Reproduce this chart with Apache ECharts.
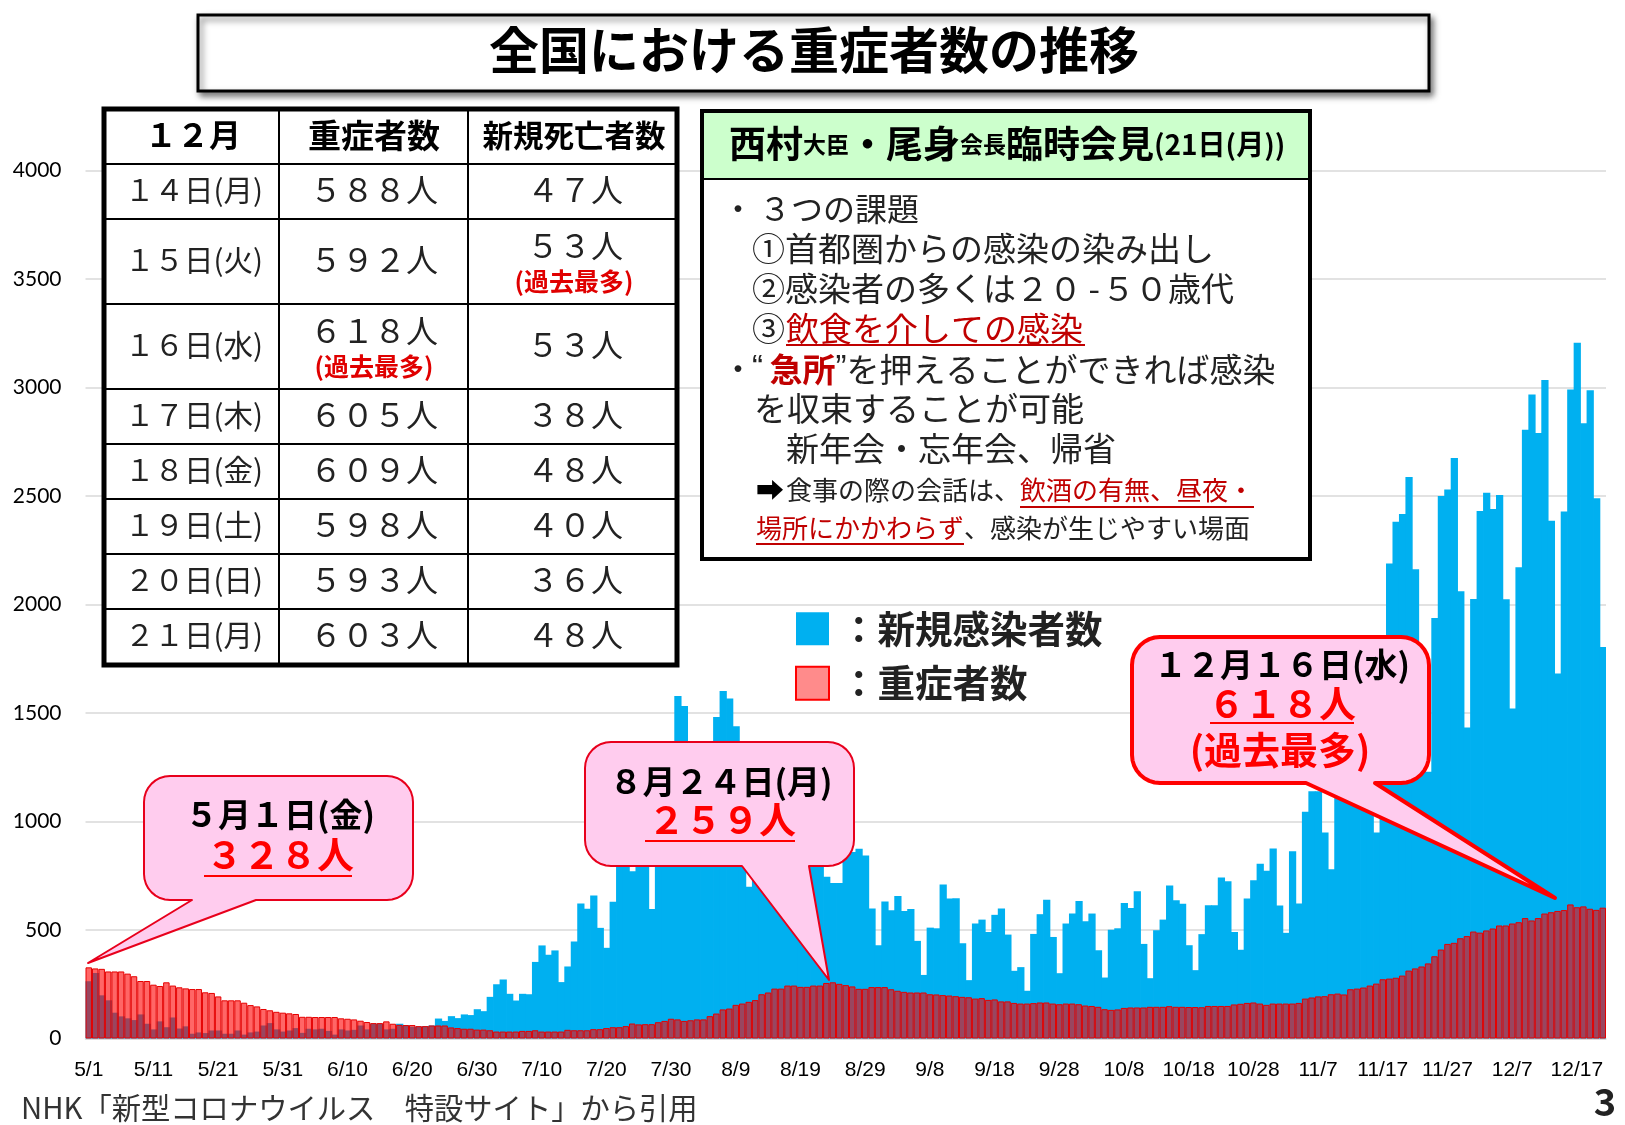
<!DOCTYPE html>
<html>
<head>
<meta charset="utf-8">
<title>全国における重症者数の推移</title>
<script src="https://cdn.jsdelivr.net/npm/echarts@6/dist/echarts.min.js"></script>
<style>
  html, body { margin: 0; padding: 0; background: #fff; }
  #chart { width: 1625px; height: 1125px; }
</style>
</head>
<body>
<div id="chart"></div>
<script>
const monthStarts = [[5, 31], [6, 30], [7, 31], [8, 31], [9, 30], [10, 31], [11, 30], [12, 21]];

// 5/1 .. 12/21, ten values per row
const newCases = [
  264, 302, 199, 176, 119, 102, 93, 85, 111, 68,
  42, 79, 52, 97, 46, 56, 22, 28, 25, 37,
  37, 22, 22, 37, 18, 28, 32, 60, 71, 42,
  32, 37, 48, 26, 45, 42, 45, 35, 18, 42,
  37, 40, 60, 42, 68, 68, 42, 45, 68, 62,
  54, 55, 57, 60, 92, 81, 103, 94, 111, 108,
  135, 126, 192, 250, 272, 206, 175, 206, 204, 353,
  429, 386, 406, 260, 332, 447, 622, 598, 659, 510,
  418, 630, 795, 981, 771, 836, 839, 597, 981, 1264,
  1301, 1579, 1533, 1331, 963, 1239, 1357, 1482, 1602, 1567,
  1439, 1000, 699, 970, 1176, 1360, 1235, 1014, 640, 909,
  1070, 1180, 1030, 1025, 745, 717, 717, 850, 860, 875,
  843, 599, 430, 631, 591, 657, 588, 597, 450, 293,
  511, 508, 710, 645, 647, 439, 269, 530, 548, 491,
  570, 599, 479, 312, 329, 220, 482, 573, 640, 468,
  301, 530, 576, 634, 541, 576, 407, 281, 501, 508,
  625, 602, 679, 436, 278, 499, 548, 705, 637, 621,
  430, 315, 481, 614, 614, 742, 725, 491, 409, 645,
  730, 806, 773, 876, 613, 487, 863, 622, 1045, 1140,
  1140, 949, 780, 1289, 1547, 1660, 1704, 1737, 1437, 949,
  1699, 2189, 2382, 2418, 2588, 2163, 1520, 1229, 1938, 2501,
  2530, 2676, 2061, 1433, 2026, 2432, 2515, 2441, 2505, 2025,
  1521, 2172, 2806, 2969, 2791, 3035, 2386, 1682, 2429, 2992,
  3207, 2836, 2988, 2490, 1805
];

const severeCases = [
  328, 323, 321, 309, 309, 309, 299, 287, 265, 265,
  248, 242, 259, 244, 236, 231, 228, 228, 213, 210,
  194, 176, 176, 176, 165, 154, 148, 136, 130, 123,
  119, 116, 113, 100, 100, 99, 99, 99, 99, 93,
  91, 88, 82, 76, 71, 71, 79, 68, 63, 62,
  62, 57, 57, 60, 60, 60, 51, 48, 45, 45,
  41, 41, 38, 32, 32, 32, 32, 35, 35, 38,
  32, 32, 32, 32, 40, 38, 38, 38, 43, 43,
  48, 52, 52, 57, 69, 65, 66, 66, 75, 81,
  91, 88, 81, 84, 88, 88, 103, 115, 134, 138,
  155, 161, 169, 177, 204, 212, 230, 230, 244, 244,
  238, 238, 244, 244, 256, 259, 252, 246, 240, 229,
  229, 237, 237, 237, 227, 220, 215, 212, 212, 212,
  204, 203, 200, 198, 195, 192, 190, 184, 186, 178,
  180, 171, 171, 164, 161, 161, 163, 166, 166, 161,
  158, 161, 161, 158, 152, 150, 146, 135, 132, 134,
  141, 143, 143, 143, 146, 146, 146, 149, 146, 146,
  145, 145, 144, 150, 150, 150, 150, 157, 160, 164,
  166, 161, 155, 161, 161, 161, 161, 164, 184, 189,
  194, 195, 204, 207, 203, 227, 230, 235, 244, 253,
  273, 276, 280, 290, 313, 323, 332, 346, 379, 410,
  436, 441, 462, 472, 493, 488, 498, 507, 521, 521,
  530, 536, 555, 544, 555, 576, 582, 588, 592, 618,
  605, 609, 598, 593, 603
];

const tableHeader = ['１２月', '重症者数', '新規死亡者数'];
const tableDays = ['１４日(月)', '１５日(火)', '１６日(水)', '１７日(木)', '１８日(金)', '１９日(土)', '２０日(日)', '２１日(月)'];
const tableSevere = ['５８８人', '５９２人', '６１８人', '６０５人', '６０９人', '５９８人', '５９３人', '６０３人'];
const tableDeaths = ['４７人', '５３人', '５３人', '３８人', '４８人', '４０人', '３６人', '４８人'];

const days = [];
monthStarts.forEach(([m, n]) => {
  for (let d = 1; d <= n; d++) days.push(`${m}/${d}`);
});

const FONT = '"Noto Sans CJK JP", sans-serif';
const gfx = [];

const rect = (x, y, w, h, fill, stroke, lw, extra = {}) => {
  gfx.push({
    type: 'rect', z: 100, silent: true,
    shape: { x, y, width: w, height: h, r: extra.r || 0 },
    style: { fill, stroke, lineWidth: lw, ...(extra.style || {}) },
  });
};
const line = (x1, y1, x2, y2, color, lw) => {
  gfx.push({
    type: 'line', z: 102, silent: true,
    shape: { x1, y1, x2, y2 },
    style: { stroke: color, lineWidth: lw },
  });
};
const text = (x, y, str, size, opts = {}) => {
  gfx.push({
    type: 'text', z: 103, silent: true, x, y,
    style: {
      text: str, fontSize: size, fontFamily: FONT,
      fontWeight: opts.weight || 'normal',
      fill: opts.color || '#222',
      align: opts.align || 'left', verticalAlign: 'middle',
      rich: opts.rich,
    },
  });
};
// rounded box with a pointed tail, drawn as one polygon outline
const arc = (cx, cy, r, from) => {
  const pts = [];
  for (let k = 0; k <= 8; k++) {
    const a = from + (k / 8) * (Math.PI / 2);
    pts.push([cx + r * Math.cos(a), cy + r * Math.sin(a)]);
  }
  return pts;
};
const callout = (x, y, w, h, r, tailA, tip, tailB, stroke, lw) => {
  const b = y + h;
  const points = [
    ...arc(x + r, y + r, r, Math.PI),
    ...arc(x + w - r, y + r, r, -Math.PI / 2),
    ...arc(x + w - r, b - r, r, 0),
    [tailB, b], tip, [tailA, b],
    ...arc(x + r, b - r, r, Math.PI / 2),
  ];
  gfx.push({
    type: 'polygon', z: 101, silent: true,
    shape: { points },
    style: { fill: '#FFCCEE', stroke, lineWidth: lw, lineJoin: 'round' },
  });
};

// title
rect(198, 15, 1231, 76, '#fff', '#000', 3, {
  style: { shadowBlur: 6, shadowOffsetX: 3, shadowOffsetY: 4, shadowColor: 'rgba(0,0,0,0.5)' },
});
text(814, 50, '全国における重症者数の推移', 50, { weight: 'bold', color: '#000', align: 'center' });

// table
const colX = [104, 279, 468, 677];
const rowY = [109, 164, 219, 304, 389, 444, 499, 554, 609, 665];
rect(colX[0], rowY[0], colX[3] - colX[0], rowY[9] - rowY[0], '#fff', '#000', 5);
colX.slice(1, 3).forEach((x) => line(x, rowY[0], x, rowY[9], '#000', 2));
rowY.slice(1, 9).forEach((y) => line(colX[0], y, colX[3], y, '#000', 2));
const colMid = [193, 374, 574];
tableHeader.forEach((t, i) => {
  text(colMid[i], 135, t, [32, 33, 30.5][i], { weight: 'bold', color: '#000', align: 'center' });
});
tableDays.forEach((t, i) => {
  const mid = (rowY[i + 1] + rowY[i + 2]) / 2 - 2;
  text(colMid[0] + 1, mid, t, 29.5, { align: 'center' });
  text(colMid[1], i === 2 ? mid - 14 : mid, tableSevere[i], 32, { align: 'center' });
  text(colMid[2] + 1, i === 1 ? mid - 14 : mid, tableDeaths[i], 32, { align: 'center' });
  if (i === 1) text(colMid[2], mid + 22, '(過去最多)', 25, { weight: 'bold', color: '#E00000', align: 'center' });
  if (i === 2) text(colMid[1], mid + 22, '(過去最多)', 25, { weight: 'bold', color: '#E00000', align: 'center' });
});

// press conference box
rect(702, 111, 608, 448, '#fff', '#000', 4);
rect(702, 111, 608, 68, '#CCFFCC', '#000', 2);
rect(702, 111, 608, 448, 'rgba(0,0,0,0)', '#000', 4);
text(729, 144, '{b|西村}{s|大臣}{b|・尾身}{s|会長}{b|臨時会見}{p|(21日(月))}', 37, {
  rich: {
    b: { fontSize: 37, fontWeight: 'bold', fontFamily: FONT, fill: '#000' },
    s: { fontSize: 23, fontWeight: 'bold', fontFamily: FONT, fill: '#000' },
    p: { fontSize: 28, fontWeight: 'bold', fontFamily: FONT, fill: '#000' },
  },
});
const RED = '#C00000';
text(722, 209, '・', 32);
text(759, 209, '３つの課題', 32);
text(752, 248, '①首都圏からの感染の染み出し', 33);
text(752, 288, '②感染者の多くは２０\u2009-\u200a５０歳代', 33);
text(752, 328, '③', 33);
text(786, 328, '飲食を介しての感染', 33, { color: RED });
line(786, 345, 1085, 345, RED, 2);
text(722, 369, '・', 32);
text(752, 369, '{q|“\u2009}{r|急所}{q|”}{t|を押えることができれば感染}', 33, {
  rich: {
    q: { fontSize: 33, fontFamily: '"Liberation Sans"', fill: '#222' },
    r: { fontSize: 33, fontWeight: 'bold', fontFamily: FONT, fill: RED },
    t: { fontSize: 33, fontFamily: FONT, fill: '#222' },
  },
});
text(754, 408, 'を収束することが可能', 33);
text(786, 448, '新年会・忘年会、帰省', 33);
text(756, 490, '➡', 28, { color: '#000' });
text(786, 490, '食事の際の会話は、', 26);
text(1020, 490, '飲酒の有無、昼夜・', 26, { color: RED });
line(1020, 507, 1254, 507, RED, 2);
text(756, 528, '場所にかかわらず', 26, { color: RED });
line(756, 544, 964, 544, RED, 2);
text(964, 528, '、感染が生じやすい場面', 26);

// callouts
callout(144, 776, 269, 124, 26, 192, [88, 963], 256, '#E8001C', 2);
text(280, 814, '５月１日(金)', 33, { weight: 'bold', color: '#000', align: 'center' });
text(280, 855, '３２８人', 37, { weight: 'bold', color: '#FF0000', align: 'center' });
line(204, 876, 352, 876, '#FF0000', 2);

callout(585, 742, 269, 124, 26, 742, [829, 980], 809, '#E8001C', 2);
text(721, 781, '８月２４日(月)', 33, { weight: 'bold', color: '#000', align: 'center' });
text(722, 820, '２５９人', 37, { weight: 'bold', color: '#FF0000', align: 'center' });
line(645, 841, 795, 841, '#FF0000', 2);

callout(1132, 637, 297, 146, 28, 1306, [1555, 898], 1375, '#FF0000', 4);
text(1282, 664, '１２月１６日(水)', 33, { weight: 'bold', color: '#000', align: 'center' });
text(1282, 704, '６１８人', 37, { weight: 'bold', color: '#FF0000', align: 'center' });
line(1210, 723, 1354, 723, '#FF0000', 2);
text(1280, 750, '(過去最多)', 38, { weight: 'bold', color: '#FF0000', align: 'center' });

// source and page number
text(21, 1108, 'NHK「新型コロナウイルス　特設サイト」から引用', 29.3, { color: '#333' });
text(1605, 1102, '3', 38, { weight: 'bold', color: '#222', align: 'center' });

const chart = echarts.init(document.getElementById('chart'), null, { renderer: 'canvas' });

chart.setOption({
  animation: false,
  backgroundColor: '#fff',
  grid: { left: 85.5, right: 19, top: 170.7, bottom: 86.5, containLabel: false },
  legend: {
    left: 790, top: 605,
    orient: 'vertical',
    itemWidth: 33, itemHeight: 33, itemGap: 17,
    selectedMode: false,
    textStyle: { fontSize: 37.5, fontWeight: 'bold', fontFamily: FONT, color: '#222', padding: [0, 0, 0, 6] },
    formatter: (name) => `：${name}`,
    data: [
      { name: '新規感染者数', icon: 'rect', itemStyle: { color: '#00B0F0', borderWidth: 0 } },
      { name: '重症者数', icon: 'rect', itemStyle: { color: '#FF8B8B', borderColor: '#FF0000', borderWidth: 2 } },
    ],
  },
  xAxis: {
    type: 'category',
    data: days,
    boundaryGap: true,
    axisLine: { lineStyle: { color: '#D9D9D9', width: 1.5 } },
    axisTick: { show: false },
    axisLabel: {
      interval: 9,
      margin: 21,
      fontSize: 21,
      fontFamily: '"Liberation Sans Narrow", "Liberation Sans", sans-serif',
      color: '#000',
    },
  },
  yAxis: {
    type: 'value',
    min: 0,
    max: 4000,
    interval: 500,
    axisLine: { show: false },
    axisTick: { show: false },
    axisLabel: {
      margin: 24,
      fontSize: 21,
      fontFamily: 'Lato, sans-serif',
      color: '#000',
      formatter: (v) => String(v),
    },
    splitLine: { lineStyle: { color: '#D9D9D9', width: 1.5 } },
  },
  series: [
    {
      name: '新規感染者数',
      type: 'bar',
      data: newCases,
      barWidth: '112%',
      barGap: '-100%',
      itemStyle: { color: '#00B0F0' },
    },
    {
      name: '重症者数',
      type: 'bar',
      data: severeCases,
      barWidth: '100%',
      itemStyle: { color: 'rgba(255,0,0,0.6)', borderColor: '#E60000', borderWidth: 1 },
    },
  ],
  graphic: { elements: gfx },
});
</script>
</body>
</html>
